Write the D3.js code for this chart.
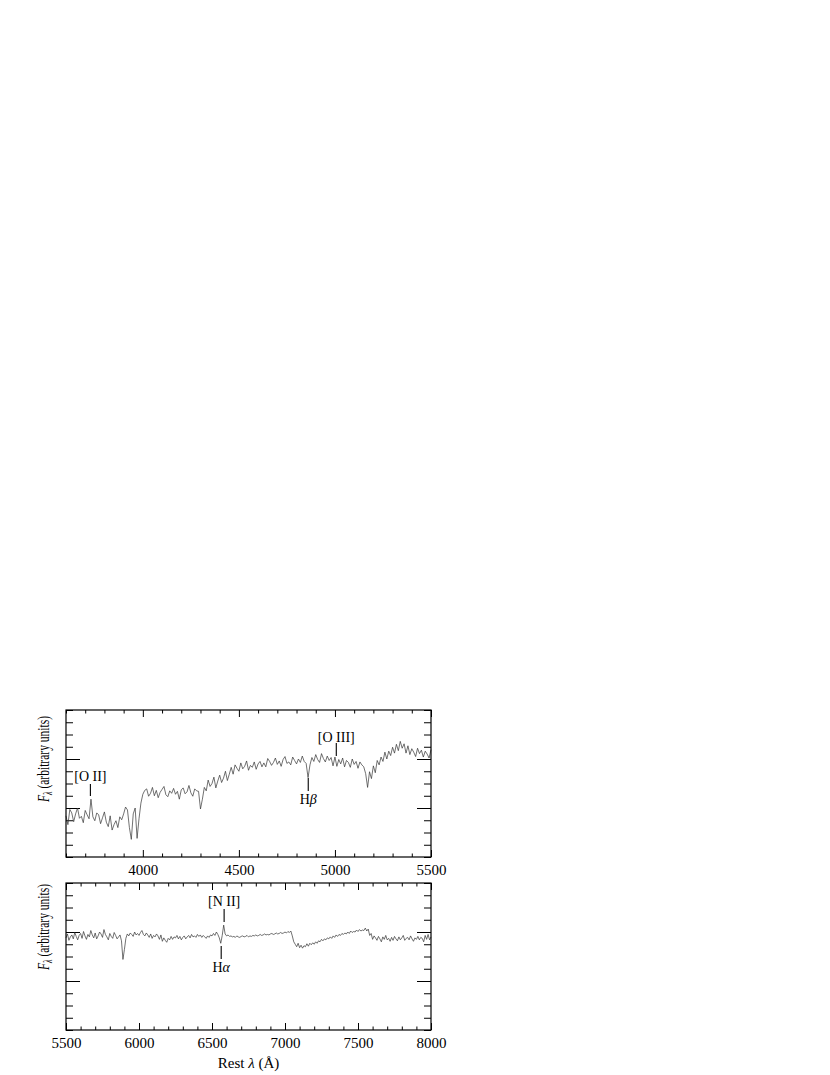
<!DOCTYPE html>
<html><head><meta charset="utf-8">
<script src="https://cdn.jsdelivr.net/npm/d3@7"></script>
<style>body{margin:0;background:#fff}svg{display:block}text{font-family:"Liberation Serif","Times New Roman",serif;fill:#000}</style>
</head><body>
<script>
// ---- data ----
const topStart = 3600, topStep = 10;
const topFlux = [
0.84,0.66,0.97,0.90,0.72,0.88,1.00,0.79,0.83,0.70,0.95,0.86,0.78,
1.18,
0.82,0.74,0.90,0.86,0.68,0.80,0.92,0.71,0.62,0.84,0.55,0.66,0.74,0.60,0.82,0.76,0.88,1.02,0.96,
0.60,0.36,0.88,1.00,0.38,0.78,1.10,1.28,1.36,
1.39,1.24,1.30,1.42,1.25,1.36,1.21,1.32,1.38,1.44,1.27,1.23,1.35,1.30,1.40,1.28,1.34,1.18,1.37,1.41,1.29,1.33,1.46,1.31,1.24,1.39,1.35,
1.34,0.98,1.18,1.42,
1.35,1.57,1.44,1.50,1.63,1.41,1.55,1.67,1.52,1.61,1.75,1.56,1.69,
1.83,1.69,1.88,1.81,1.75,1.92,1.80,1.85,1.96,1.77,1.87,1.83,1.94,1.79,1.90,1.95,1.84,
1.92,1.84,2.01,1.95,1.87,1.93,2.02,1.89,1.96,1.85,1.99,2.05,1.91,1.94,1.88,2.04,1.97,1.90,2.00,1.93,2.06,1.95,1.91,
1.62,1.88,2.03,
1.95,2.09,1.99,1.93,2.11,2.01,1.94,2.06,1.97,2.03,1.86,2.04,1.85,1.99,
1.90,2.02,1.84,1.97,1.93,1.83,2.00,1.89,1.95,1.81,1.94,1.88,1.84,
1.70,1.42,1.74,1.60,1.86,
1.72,1.97,1.88,2.04,1.95,2.14,2.00,2.16,2.07,2.24,2.12,
2.30,2.17,2.36,2.22,2.31,2.12,
2.27,2.09,2.21,2.14,2.05,2.22,2.11,2.18,2.04,2.16,2.10,2.02,2.19
];
const botStart = 5500, botStep = 10;
const botFlux = [
1.88,1.96,1.83,1.90,1.94,1.86,1.99,1.91,1.84,1.93,1.97,1.87,2.01,1.92,1.85,1.95,1.90,2.03,1.94,1.88,1.98,1.86,1.92,2.00,1.96,1.89,2.05,1.95,1.90,1.84,1.97,1.91,1.87,1.99,1.93,1.86,1.90,1.94,1.82,
1.44,1.64,1.87,
1.96,1.92,1.98,1.95,1.91,2.00,1.94,1.97,1.93,1.99,2.03,1.95,1.92,1.98,1.94,1.89,1.96,1.87,1.93,1.90,1.96,1.92,1.85,1.94,1.81,1.88,1.83,1.79,1.87,1.84,1.91,
1.85,1.90,1.88,1.93,1.86,1.91,1.84,1.89,1.92,1.86,1.90,1.93,1.88,1.95,1.90,1.92,1.89,1.95,1.91,1.94,1.89,1.93,1.90,1.87,1.92,1.89,1.94,1.92,1.97,1.93,2.00,1.95,
1.88,1.77,1.93,2.14,1.96,1.92,
1.94,1.91,1.92,1.90,1.91,1.89,1.92,1.90,1.89,1.91,1.92,1.90,1.91,1.93,1.90,1.92,1.91,1.93,1.92,1.94,1.92,1.93,1.95,1.93,1.94,1.96,1.94,1.95,1.94,1.96,1.97,1.95,1.96,1.98,1.96,1.97,1.99,1.97,1.98,2.00,1.98,2.01,1.99,2.02,
1.92,1.80,
1.75,1.70,1.77,1.68,1.73,1.67,1.72,1.70,1.76,1.71,1.77,1.74,1.78,1.75,
1.80,1.77,1.82,1.80,1.85,1.82,1.86,1.84,1.88,1.86,1.90,1.87,1.92,1.89,1.94,1.91,1.95,1.93,1.97,1.95,1.98,1.96,2.00,1.97,2.02,1.99,2.01,2.00,2.04,2.01,2.05,2.02,2.04,2.03,2.08,2.02,2.06,
1.93,1.97,1.85,1.92,1.88,1.83,1.91,1.86,1.80,1.90,1.85,1.93,1.84,1.87,1.81,1.89,1.83,1.91,1.86,1.82,1.90,1.84,1.88,1.93,1.83,1.87,1.89,1.84,1.92,1.86,1.81,1.88,1.85,1.91,1.84,1.89,1.87,1.80,1.93,1.85,1.95,1.84,1.90
];
const topMajor = [4000, 4500, 5000, 5500];
const botMajor = [5500, 6000, 6500, 7000, 7500, 8000];
const topLines = [
  {name: "[O II]", wave: 3727},
  {name: "[O III]", wave: 5007},
  {name: "Hβ", wave: 4861}
];
const botLines = [
  {name: "[N II]", wave: 6583},
  {name: "Hα", wave: 6563}
];

// ---- drawing ----
const W = 830, H = 1075;
const svg = d3.select("body").append("svg").attr("width", W).attr("height", H);
const X0 = 66, X1 = 431;

function panel(cfg) {
  const x = d3.scaleLinear().domain(cfg.domain).range([X0, X1]);
  const y = d3.scaleLinear().domain([0, 3]).range([cfg.y1, cfg.y0]);
  const g = svg.append("g");
  const minorX = d3.range(cfg.domain[0], cfg.domain[1] + 1, 100).filter(v => !cfg.major.includes(v));
  const minorY = d3.range(0, 3.01, 0.25).filter(v => Math.abs(v - 1) > 1e-6 && Math.abs(v - 2) > 1e-6);
  const majorY = [1, 2];
  const clean = sel => { sel.select(".domain").remove(); sel.selectAll("line").attr("stroke", "#000").attr("stroke-width", 1); };
  g.append("g").attr("transform", `translate(0,${cfg.y1})`).call(d3.axisBottom(x).tickValues(minorX).tickSize(-3.5).tickFormat("")).call(clean);
  const bx = g.append("g").attr("transform", `translate(0,${cfg.y1})`).call(d3.axisBottom(x).tickValues(cfg.major).tickSize(-7).tickPadding(7.5).tickFormat(d3.format("d"))).call(clean);
  bx.selectAll("text").attr("font-size", 15).attr("fill", "#000").attr("font-family", '"Liberation Serif",serif');
  g.append("g").attr("transform", `translate(0,${cfg.y0})`).call(d3.axisTop(x).tickValues(minorX).tickSize(-3.5).tickFormat("")).call(clean);
  g.append("g").attr("transform", `translate(0,${cfg.y0})`).call(d3.axisTop(x).tickValues(cfg.major).tickSize(-7).tickFormat("")).call(clean);
  g.append("g").attr("transform", `translate(${X0},0)`).call(d3.axisLeft(y).tickValues(minorY).tickSize(-7).tickFormat("")).call(clean);
  g.append("g").attr("transform", `translate(${X0},0)`).call(d3.axisLeft(y).tickValues(majorY).tickSize(-14).tickFormat("")).call(clean);
  g.append("g").attr("transform", `translate(${X1},0)`).call(d3.axisRight(y).tickValues(minorY).tickSize(-7).tickFormat("")).call(clean);
  g.append("g").attr("transform", `translate(${X1},0)`).call(d3.axisRight(y).tickValues(majorY).tickSize(-14).tickFormat("")).call(clean);
  const pts = cfg.flux.map((f, i) => [cfg.start + i * cfg.step, f]);
  g.append("path").datum(pts)
    .attr("fill", "none").attr("stroke", "#333").attr("stroke-width", 0.7)
    .attr("d", d3.line().x(d => x(d[0])).y(d => y(d[1])));
  g.append("rect").attr("x", X0).attr("y", cfg.y0).attr("width", X1 - X0).attr("height", cfg.y1 - cfg.y0)
    .attr("fill", "none").attr("stroke", "#000").attr("stroke-width", 1.2);
  cfg.lines.forEach(l => {
    const a = cfg.ann[l.name];
    const xp = x(l.wave);
    g.append("line").attr("x1", xp).attr("x2", xp).attr("y1", a.t0).attr("y2", a.t1).attr("stroke", "#000").attr("stroke-width", 1.1);
    const t = g.append("text").attr("x", xp).attr("y", a.ty).attr("text-anchor", "middle").attr("font-size", 14);
    if (l.name.startsWith("H")) {
      t.append("tspan").text("H");
      t.append("tspan").attr("font-style", "italic").text(l.name.slice(1));
    } else t.text(l.name);
  });
  const yl = g.append("text").attr("transform", `translate(49,${cfg.labelBottom}) rotate(-90)`).attr("font-size", 17)
    .attr("text-anchor", "start").attr("textLength", 86).attr("lengthAdjust", "spacingAndGlyphs");
  yl.append("tspan").attr("font-style", "italic").text("F");
  yl.append("tspan").attr("font-size", 12).attr("font-style", "italic").attr("dy", 3).text("λ");
  yl.append("tspan").attr("dy", -3).text(" (arbitrary units)");
  return x;
}

panel({domain: [3600, 5500], y0: 710, y1: 857, major: topMajor, flux: topFlux, start: topStart, step: topStep,
  lines: topLines, labelBottom: 802,
  ann: {"[O II]": {t0: 784, t1: 796, ty: 781}, "[O III]": {t0: 743, t1: 756, ty: 742}, "Hβ": {t0: 778, t1: 791, ty: 804}}});
panel({domain: [5500, 8000], y0: 883, y1: 1030, major: botMajor, flux: botFlux, start: botStart, step: botStep,
  lines: botLines, labelBottom: 970,
  ann: {"[N II]": {t0: 909, t1: 922, ty: 906}, "Hα": {t0: 946, t1: 959, ty: 972}}});

const xl = svg.append("text").attr("x", 248.5).attr("y", 1068).attr("text-anchor", "middle").attr("font-size", 15);
xl.append("tspan").text("Rest ");
xl.append("tspan").attr("font-style", "italic").text("λ");
xl.append("tspan").text(" (Å)");
</script>
</body></html>
